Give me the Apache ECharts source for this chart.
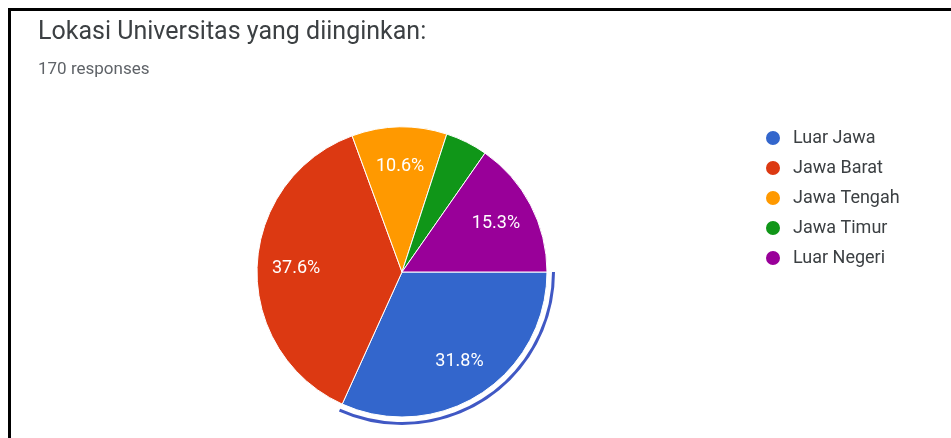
<!DOCTYPE html>
<html>
<head>
<meta charset="utf-8">
<script src="https://cdn.jsdelivr.net/npm/echarts@6/dist/echarts.min.js"></script>
<style>
  html, body { margin: 0; padding: 0; background: #fff; }
  #chart { width: 951px; height: 438px; }
</style>
</head>
<body>
<div id="chart"></div>
<script>
// ---- data ----
const chartTitle = 'Lokasi Universitas yang diinginkan:';
const responseText = '170 responses';
const categories = ['Luar Jawa', 'Jawa Barat', 'Jawa Tengah', 'Jawa Timur', 'Luar Negeri'];
const counts = [54, 64, 18, 8, 26];
const highlighted = 'Luar Jawa';
const hiddenLabels = ['Jawa Timur'];

// ---- style ----
const palette = ['#3366cc', '#dc3912', '#ff9900', '#109618', '#990099'];
const CX = 402, CY = 272, R = 145;
const FONT = 'Roboto, "Noto Sans", sans-serif';

const chart = echarts.init(document.getElementById('chart'), null, { renderer: 'canvas' });

const mainData = categories.map((c, i) => ({
  name: c, value: counts[i], itemStyle: { color: palette[i] }
}));
const labelData = categories.map((c, i) => ({
  name: c, value: counts[i],
  label: { show: hiddenLabels.indexOf(c) < 0 }
}));
const ringData = categories.map((c, i) => ({
  name: c, value: counts[i],
  itemStyle: { color: c === highlighted ? '#4058c4' : 'rgba(0,0,0,0)' }
}));

chart.setOption({
  animation: false,
  backgroundColor: '#ffffff',
  title: [
    { text: chartTitle, left: 33, top: 15,
      textStyle: { fontFamily: FONT, fontSize: 25, fontWeight: 'normal', color: '#3c4043' } },
    { text: responseText, left: 33, top: 56,
      textStyle: { fontFamily: FONT, fontSize: 17, fontWeight: 'normal', color: '#5f6368' } }
  ],
  legend: {
    orient: 'vertical',
    left: 759, top: 124,
    icon: 'circle',
    itemWidth: 16, itemHeight: 16, itemGap: 12,
    selectedMode: false,
    data: categories.map((c, i) => ({ name: c, itemStyle: { color: palette[i] } })),
    textStyle: { fontFamily: FONT, fontSize: 18, lineHeight: 18, color: '#3c4043', padding: [0, 0, 0, 7] }
  },
  graphic: [
    { type: 'rect', shape: { x: 8, y: 8, width: 943, height: 3 }, style: { fill: '#000' }, silent: true },
    { type: 'rect', shape: { x: 8, y: 8, width: 3, height: 430 }, style: { fill: '#000' }, silent: true }
  ],
  series: [
    {
      type: 'pie', name: 'main',
      center: [CX, CY], radius: [0, R],
      startAngle: 0, clockwise: true,
      percentPrecision: 1,
      label: { show: false }, labelLine: { show: false },
      itemStyle: { borderColor: '#ffffff', borderWidth: 1 },
      emphasis: { disabled: true },
      data: mainData
    },
    {
      type: 'pie', name: 'ring', silent: true,
      center: [CX, CY], radius: [R + 5, R + 8],
      startAngle: 0, clockwise: true,
      label: { show: false }, labelLine: { show: false },
      emphasis: { disabled: true },
      data: ringData
    },
    {
      type: 'pie', name: 'labels', silent: true,
      center: [CX, CY], radius: [R * 0.42, R],
      startAngle: 0, clockwise: true,
      percentPrecision: 1,
      itemStyle: { color: 'rgba(0,0,0,0)' },
      label: { show: true, position: 'inner', formatter: '{d}%',
        fontFamily: FONT, fontSize: 18, color: '#ffffff' },
      labelLine: { show: false },
      emphasis: { disabled: true },
      data: labelData
    }
  ]
});
</script>
</body>
</html>
